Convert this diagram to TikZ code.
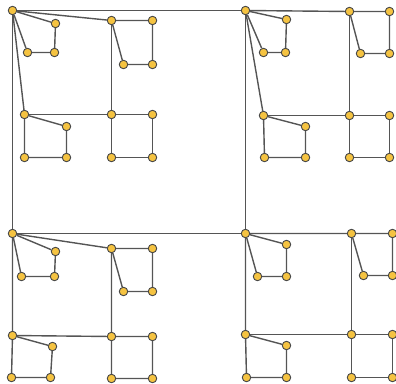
\documentclass[tikz,border=0pt]{standalone}
\usepackage{tikz}
\definecolor{dotfill}{RGB}{245,195,65}
\definecolor{dotline}{RGB}{70,70,70}
\definecolor{edgegray}{RGB}{85,85,85}

\begin{document}
\begin{tikzpicture}[x=1pt, y=-1pt,
        dotnode/.style={circle, draw=dotline, fill=dotfill, line width=0.9pt, minimum size=8.5pt, inner sep=0pt},
        edge/.style={draw=edgegray, line width=1.4pt}]
            \useasboundingbox (0,0) rectangle (396,383);
            \begin{scope}[shift={(0.5,0.5)}]
            % top left
            \node[dotnode] (q1a)  at (12,10)   {};
            \node[dotnode] (q1s1) at (55,23)   {};
            \node[dotnode] (q1s2) at (27,52)   {};
            \node[dotnode] (q1s3) at (54,52)   {};
            \node[dotnode] (q1b)  at (111,20)  {};
            \node[dotnode] (q1b2) at (152,20)  {};
            \node[dotnode] (q1b3) at (123,64)  {};
            \node[dotnode] (q1b4) at (152,64)  {};
            \node[dotnode] (q1c)  at (24,114)  {};
            \node[dotnode] (q1c2) at (66,126)  {};
            \node[dotnode] (q1c3) at (24,157)  {};
            \node[dotnode] (q1c4) at (66,157)  {};
            \node[dotnode] (q1d)  at (111,114) {};
            \node[dotnode] (q1d2) at (152,114) {};
            \node[dotnode] (q1d3) at (111,157) {};
            \node[dotnode] (q1d4) at (152,157) {};
            % top right
            \node[dotnode] (q2a)  at (245,10)  {};
            \node[dotnode] (q2s1) at (286,19)  {};
            \node[dotnode] (q2s2) at (263,52)  {};
            \node[dotnode] (q2s3) at (285,52)  {};
            \node[dotnode] (q2b)  at (349,11)  {};
            \node[dotnode] (q2b2) at (389,11)  {};
            \node[dotnode] (q2b3) at (360,53)  {};
            \node[dotnode] (q2b4) at (389,53)  {};
            \node[dotnode] (q2c)  at (263,115) {};
            \node[dotnode] (q2c2) at (305,126) {};
            \node[dotnode] (q2c3) at (264,157) {};
            \node[dotnode] (q2c4) at (305,157) {};
            \node[dotnode] (q2d)  at (349,115) {};
            \node[dotnode] (q2d2) at (389,115) {};
            \node[dotnode] (q2d3) at (349,157) {};
            \node[dotnode] (q2d4) at (389,157) {};
            % bottom left
            \node[dotnode] (q3a)  at (12,233)  {};
            \node[dotnode] (q3s1) at (55,251)  {};
            \node[dotnode] (q3s2) at (21,276)  {};
            \node[dotnode] (q3s3) at (54,276)  {};
            \node[dotnode] (q3b)  at (111,248) {};
            \node[dotnode] (q3b2) at (152,248) {};
            \node[dotnode] (q3b3) at (123,291) {};
            \node[dotnode] (q3b4) at (152,291) {};
            \node[dotnode] (q3c)  at (12,335)  {};
            \node[dotnode] (q3c2) at (52,346)  {};
            \node[dotnode] (q3c3) at (11,377)  {};
            \node[dotnode] (q3c4) at (50,377)  {};
            \node[dotnode] (q3d)  at (111,336) {};
            \node[dotnode] (q3d2) at (152,336) {};
            \node[dotnode] (q3d3) at (111,378) {};
            \node[dotnode] (q3d4) at (152,378) {};
            % bottom right
            \node[dotnode] (q4a)  at (245,233) {};
            \node[dotnode] (q4s1) at (286,244) {};
            \node[dotnode] (q4s2) at (257,276) {};
            \node[dotnode] (q4s3) at (286,276) {};
            \node[dotnode] (q4b)  at (351,233) {};
            \node[dotnode] (q4b2) at (392,233) {};
            \node[dotnode] (q4b3) at (363,275) {};
            \node[dotnode] (q4b4) at (392,275) {};
            \node[dotnode] (q4c)  at (245,334) {};
            \node[dotnode] (q4c2) at (286,345) {};
            \node[dotnode] (q4c3) at (246,377) {};
            \node[dotnode] (q4c4) at (286,377) {};
            \node[dotnode] (q4d)  at (351,334) {};
            \node[dotnode] (q4d2) at (392,334) {};
            \node[dotnode] (q4d3) at (351,377) {};
            \node[dotnode] (q4d4) at (392,377) {};
            % links between the four hubs
            \draw[edge] (q1a) -- (q2a) -- (q4a) -- (q3a) -- (q1a);
            % top left
            \draw[edge] (q1a) -- (q1s1) -- (q1s3) -- (q1s2) -- (q1a);
            \draw[edge] (q1a) -- (q1b) -- (q1b2) -- (q1b4) -- (q1b3) -- (q1b);
            \draw[edge] (q1a) -- (q1c) -- (q1c2) -- (q1c4) -- (q1c3) -- (q1c);
            \draw[edge] (q1c) -- (q1d) -- (q1d2) -- (q1d4) -- (q1d3) -- (q1d) -- (q1b);
            % top right
            \draw[edge] (q2a) -- (q2s1) -- (q2s3) -- (q2s2) -- (q2a);
            \draw[edge] (q2a) -- (q2b) -- (q2b2) -- (q2b4) -- (q2b3) -- (q2b);
            \draw[edge] (q2a) -- (q2c) -- (q2c2) -- (q2c4) -- (q2c3) -- (q2c);
            \draw[edge] (q2c) -- (q2d) -- (q2d2) -- (q2d4) -- (q2d3) -- (q2d) -- (q2b);
            % bottom left
            \draw[edge] (q3a) -- (q3s1) -- (q3s3) -- (q3s2) -- (q3a);
            \draw[edge] (q3a) -- (q3b) -- (q3b2) -- (q3b4) -- (q3b3) -- (q3b);
            \draw[edge] (q3a) -- (q3c) -- (q3c2) -- (q3c4) -- (q3c3) -- (q3c);
            \draw[edge] (q3c) -- (q3d) -- (q3d2) -- (q3d4) -- (q3d3) -- (q3d) -- (q3b);
            % bottom right
            \draw[edge] (q4a) -- (q4s1) -- (q4s3) -- (q4s2) -- (q4a);
            \draw[edge] (q4a) -- (q4b) -- (q4b2) -- (q4b4) -- (q4b3) -- (q4b);
            \draw[edge] (q4a) -- (q4c) -- (q4c2) -- (q4c4) -- (q4c3) -- (q4c);
            \draw[edge] (q4c) -- (q4d) -- (q4d2) -- (q4d4) -- (q4d3) -- (q4d) -- (q4b);
            \end{scope}
        \end{tikzpicture}
\end{document}
